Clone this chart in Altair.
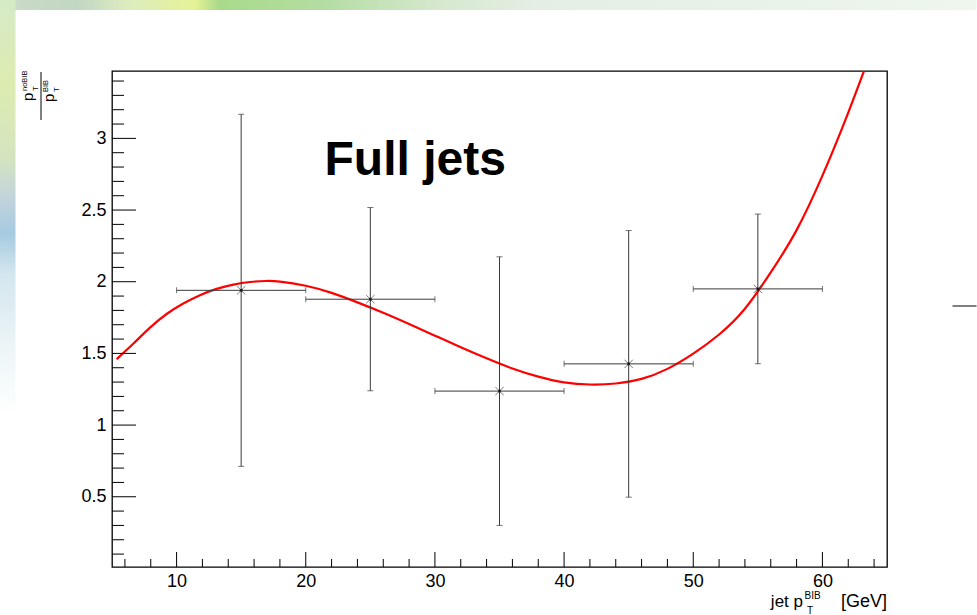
import altair as alt
import pandas as pd

# Measured ratio points (bin centre, ratio, vertical error), bin half-width 5 GeV
pt_centre = [15, 25, 35, 45, 55]
ratio = [1.94, 1.878, 1.237, 1.427, 1.95]
ratio_err = [1.228, 0.639, 0.937, 0.93, 0.522]
pt_halfwidth = [5, 5, 5, 5, 5]

# Fitted curve, sampled along the drawn function
fit_pt = [5.36, 6.64, 7.94, 9.23, 10.52, 11.81, 13.1, 14.4, 15.69, 16.9, 18.0,
          20.0, 22.0, 24.0, 26.0, 28.0, 30.0, 32.0, 34.0, 36.0, 38.0, 40.0,
          42.0, 44.0, 46.0, 48.0, 50.0, 52.0, 54.0, 56.0, 58.0, 60.0, 62.0, 64.0]
fit_ratio = [1.46, 1.567, 1.680, 1.775, 1.848, 1.906, 1.950, 1.980, 1.998, 2.005, 2.001,
             1.972, 1.922, 1.856, 1.783, 1.705, 1.624, 1.543, 1.466, 1.395, 1.338, 1.298,
             1.283, 1.290, 1.322, 1.392, 1.498, 1.632, 1.812, 2.065, 2.36, 2.74, 3.18, 3.66]

# Axis ticks
x_major = [10, 20, 30, 40, 50, 60]
x_minor = [6, 8, 12, 14, 16, 18, 22, 24, 26, 28, 32, 34, 36, 38, 42, 44, 46, 48,
           52, 54, 56, 58, 62, 64]
y_major = [0.5, 1.0, 1.5, 2.0, 2.5, 3.0]
y_minor = [0.1, 0.2, 0.3, 0.4, 0.6, 0.7, 0.8, 0.9, 1.1, 1.2, 1.3, 1.4, 1.6, 1.7,
           1.8, 1.9, 2.1, 2.2, 2.3, 2.4, 2.6, 2.7, 2.8, 2.9, 3.1, 3.2, 3.3, 3.4]

X_DOMAIN = [5, 65]
Y_DOMAIN = [0.01, 3.47]
W, H = 775, 496
FONT = "Liberation Sans"
ERR_COLOR = "#3a3a3a"

pts = pd.DataFrame({
    "pt": pt_centre,
    "r": ratio,
    "lo": [r - e for r, e in zip(ratio, ratio_err)],
    "hi": [r + e for r, e in zip(ratio, ratio_err)],
    "xlo": [p - w for p, w in zip(pt_centre, pt_halfwidth)],
    "xhi": [p + w for p, w in zip(pt_centre, pt_halfwidth)],
})
fit = pd.DataFrame({"pt": fit_pt, "r": fit_ratio})

xs = alt.Scale(domain=X_DOMAIN, nice=False, zero=False)
ys = alt.Scale(domain=Y_DOMAIN, nice=False, zero=False)

one = pd.DataFrame({"k": [0]})

# Slide background pieces around the white canvas
top_strip = alt.Chart(one).mark_rect(
    fill=alt.Gradient(
        gradient="linear", x1=0, x2=1, y1=0, y2=0,
        stops=[
            alt.GradientStop(offset=0.0, color="#cadcc8"),
            alt.GradientStop(offset=0.08, color="#c2d6c4"),
            alt.GradientStop(offset=0.13, color="#dcecc0"),
            alt.GradientStop(offset=0.2, color="#e6f296"),
            alt.GradientStop(offset=0.225, color="#a8da8a"),
            alt.GradientStop(offset=0.33, color="#b4dca2"),
            alt.GradientStop(offset=0.45, color="#d6e8ce"),
            alt.GradientStop(offset=0.55, color="#e4eee4"),
            alt.GradientStop(offset=1.0, color="#eef6ee"),
        ],
    ),
    strokeWidth=0,
).encode(x=alt.value(-112.5), x2=alt.value(864.5), y=alt.value(-71), y2=alt.value(-61))

left_strip = alt.Chart(one).mark_rect(
    fill=alt.Gradient(
        gradient="linear", x1=0, x2=0, y1=0, y2=1,
        stops=[
            alt.GradientStop(offset=0.0, color="#d6eac8"),
            alt.GradientStop(offset=0.2, color="#dcecb0"),
            alt.GradientStop(offset=0.38, color="#d4e4c0"),
            alt.GradientStop(offset=0.47, color="#c4d4dc"),
            alt.GradientStop(offset=0.56, color="#a6cae0"),
            alt.GradientStop(offset=0.66, color="#d4e6ee"),
            alt.GradientStop(offset=0.85, color="#eef6f8"),
            alt.GradientStop(offset=1.0, color="#ffffff"),
        ],
    ),
    strokeWidth=0,
).encode(x=alt.value(-112.5), x2=alt.value(-96.5), y=alt.value(-71), y2=alt.value(345))

side_dash = alt.Chart(one).mark_rule(color="#808080", strokeWidth=2).encode(
    x=alt.value(840.5), x2=alt.value(864.5), y=alt.value(235)
)

# Main axes: labels only, ticks are drawn inward below
base_x = alt.X("pt:Q", scale=xs, axis=alt.Axis(
    values=x_major, ticks=False, domain=False, grid=False, title=None,
    labelFont=FONT, labelFontSize=18, labelColor="#000", labelPadding=5, format="~g"))
base_y = alt.Y("r:Q", scale=ys, axis=alt.Axis(
    values=y_major, ticks=False, domain=False, grid=False, title=None,
    labelFont=FONT, labelFontSize=18, labelColor="#000", labelPadding=6, format="~g"))

curve = alt.Chart(fit).mark_line(color="#ff0000", strokeWidth=2.2, interpolate="natural",
                                 clip=True).encode(x=base_x, y=base_y)

xbar = alt.Chart(pts).mark_rule(color=ERR_COLOR, strokeWidth=1).encode(
    x=alt.X("xlo:Q", scale=xs), x2="xhi:Q", y=alt.Y("r:Q", scale=ys))
ybar = alt.Chart(pts).mark_rule(color=ERR_COLOR, strokeWidth=1).encode(
    x=alt.X("pt:Q", scale=xs), y=alt.Y("lo:Q", scale=ys), y2="hi:Q")

def cap(field_x, field_y, orient):
    return alt.Chart(pts).mark_tick(color=ERR_COLOR, thickness=1, size=6, orient=orient).encode(
        x=alt.X(field_x, scale=xs), y=alt.Y(field_y, scale=ys))

caps = [cap("pt:Q", "lo:Q", "horizontal"), cap("pt:Q", "hi:Q", "horizontal"),
        cap("xlo:Q", "r:Q", "vertical"), cap("xhi:Q", "r:Q", "vertical")]

marker = alt.Chart(pts).mark_point(
    shape="M-1,-1L1,1M-1,1L1,-1", filled=False, color="#444444", strokeWidth=1, size=70
).encode(x=alt.X("pt:Q", scale=xs), y=alt.Y("r:Q", scale=ys))
dot = alt.Chart(pts).mark_square(color="#000", size=7).encode(
    x=alt.X("pt:Q", scale=xs), y=alt.Y("r:Q", scale=ys))

# Inward-pointing tick marks
xt_major = alt.Chart(pd.DataFrame({"v": x_major})).mark_rule(color="#000", strokeWidth=1).encode(
    x=alt.X("v:Q", scale=xs), y=alt.value(H), y2=alt.value(H - 15))
xt_minor = alt.Chart(pd.DataFrame({"v": x_minor})).mark_rule(color="#000", strokeWidth=1).encode(
    x=alt.X("v:Q", scale=xs), y=alt.value(H), y2=alt.value(H - 8))
yt_major = alt.Chart(pd.DataFrame({"v": y_major})).mark_rule(color="#000", strokeWidth=1).encode(
    y=alt.Y("v:Q", scale=ys), x=alt.value(0), x2=alt.value(24))
yt_minor = alt.Chart(pd.DataFrame({"v": y_minor})).mark_rule(color="#000", strokeWidth=1).encode(
    y=alt.Y("v:Q", scale=ys), x=alt.value(0), x2=alt.value(12))

# Texts
def label(text, x, y, size, weight="normal", align="left", angle=0):
    return alt.Chart(one).mark_text(
        text=text, font=FONT, fontSize=size, fontWeight=weight, align=align,
        baseline="alphabetic", angle=angle, color="#000"
    ).encode(x=alt.value(x), y=alt.value(y))

full_jets = label("Full jets", 212.5, 104, 48, weight="bold")

x_title = [
    label("jet p", 691, 536, 17, align="right"),
    label("BIB", 692.5, 527.5, 10),
    label("T", 695, 543, 10),
    label("[GeV]", 775, 536, 18, align="right"),
]

y_title = [
    label("p", -79, 30, 15, angle=270),
    label("noBIB", -85, 20, 7.5, angle=270),
    label("T", -74, 20, 7.5, angle=270),
    label("p", -58, 31, 15, angle=270),
    label("BIB", -64, 21, 7.5, angle=270),
    label("T", -53, 21, 7.5, angle=270),
]
frac_bar = alt.Chart(one).mark_rule(color="#000", strokeWidth=1).encode(
    x=alt.value(-71), y=alt.value(1), y2=alt.value(49))

chart = alt.layer(
    top_strip, left_strip, side_dash,
    curve, xbar, ybar, *caps, marker, dot,
    xt_major, xt_minor, yt_major, yt_minor,
    full_jets, *x_title, *y_title, frac_bar,
).properties(
    width=W, height=H,
    autosize=alt.AutoSizeParams(type="none"),
    padding={"left": 112, "top": 71, "right": 90, "bottom": 48},
    background="#ffffff",
).configure_view(stroke="#000000", strokeWidth=1.3)

chart.save("out.html", embed_options={"renderer": "svg", "actions": False})
